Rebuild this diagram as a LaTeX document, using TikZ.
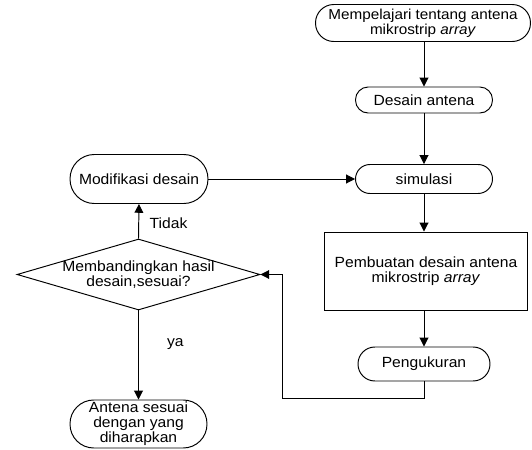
\documentclass[tikz,border=0pt]{standalone}
\usepackage{fontspec}
\setmainfont{Liberation Sans}[FakeStretch=1.06]
\usetikzlibrary{positioning, arrows.meta, shapes.geometric}

\begin{document}
\begin{tikzpicture}[
      x=0.02cm, y=-0.02cm,
      every node/.style={font=\fontsize{8.4}{8.6}\selectfont, align=center, inner sep=0pt},
      term/.style={draw, line width=0.55pt, rounded corners=#1},
      term/.default=9pt,
      proc/.style={draw, line width=0.55pt},
      decide/.style={draw, diamond, aspect=3.4, inner xsep=-10pt, line width=0.55pt},
      flow/.style={line width=0.55pt, -{Triangle[length=5pt, width=5pt]}},
    ]
    \useasboundingbox (0,0) rectangle (532,450);
    % right column
    \node[term=10.4pt, minimum width=4.3cm, minimum height=0.74cm,
          font=\fontsize{8.2}{7.4}\selectfont] (learn) at (423,23)
      {Mempelajari tentang antena\\mikrostrip \textit{array}};
    \node[term=7.2pt, minimum width=2.74cm, minimum height=0.52cm] (design) at (424,100) {Desain antena};
    \node[term=8.2pt, minimum width=2.74cm, minimum height=0.58cm] (sim) at (424,179) {simulasi};
    \node[proc, minimum width=4.08cm, minimum height=1.56cm] (fab) at (426,271)
      {Pembuatan desain antena\\mikrostrip \textit{array}};
    \node[term=9.6pt, minimum width=2.64cm, minimum height=0.68cm] (measure) at (424,364) {Pengukuran};
    % left column
    \node[term=13.8pt, minimum width=2.76cm, minimum height=0.98cm] (modify) at (139,179) {Modifikasi desain};
    \node[decide, minimum width=4.86cm, minimum height=1.42cm] (compare) at (138.5,274.5)
      {Membandingkan hasil\\desain,sesuai?};
    \node[term=13.5pt, minimum width=2.74cm, minimum height=0.96cm] (result) at (138.5,424)
      {Antena sesuai\\dengan yang\\diharapkan};
    \coordinate (loop) at (282,398);

    \draw[flow] (learn.south -| design.north) -- (design);
    \draw[flow] (design) -- (sim);
    \draw[flow] (sim) -- (fab.north -| sim.south);
    \draw[flow] (fab.south -| measure.north) -- (measure);
    \draw[flow] (modify) -- (sim);
    \draw[flow] (compare.north) -- node[right=6pt, pos=0.45] (no) {Tidak} (modify.south);
    \draw[flow] (compare.south) -- node[right=16pt, pos=0.38] (yes) {ya} (result.north);
    \draw[flow] (measure.south) |- (loop) |- (compare.east);
  \end{tikzpicture}
\end{document}
